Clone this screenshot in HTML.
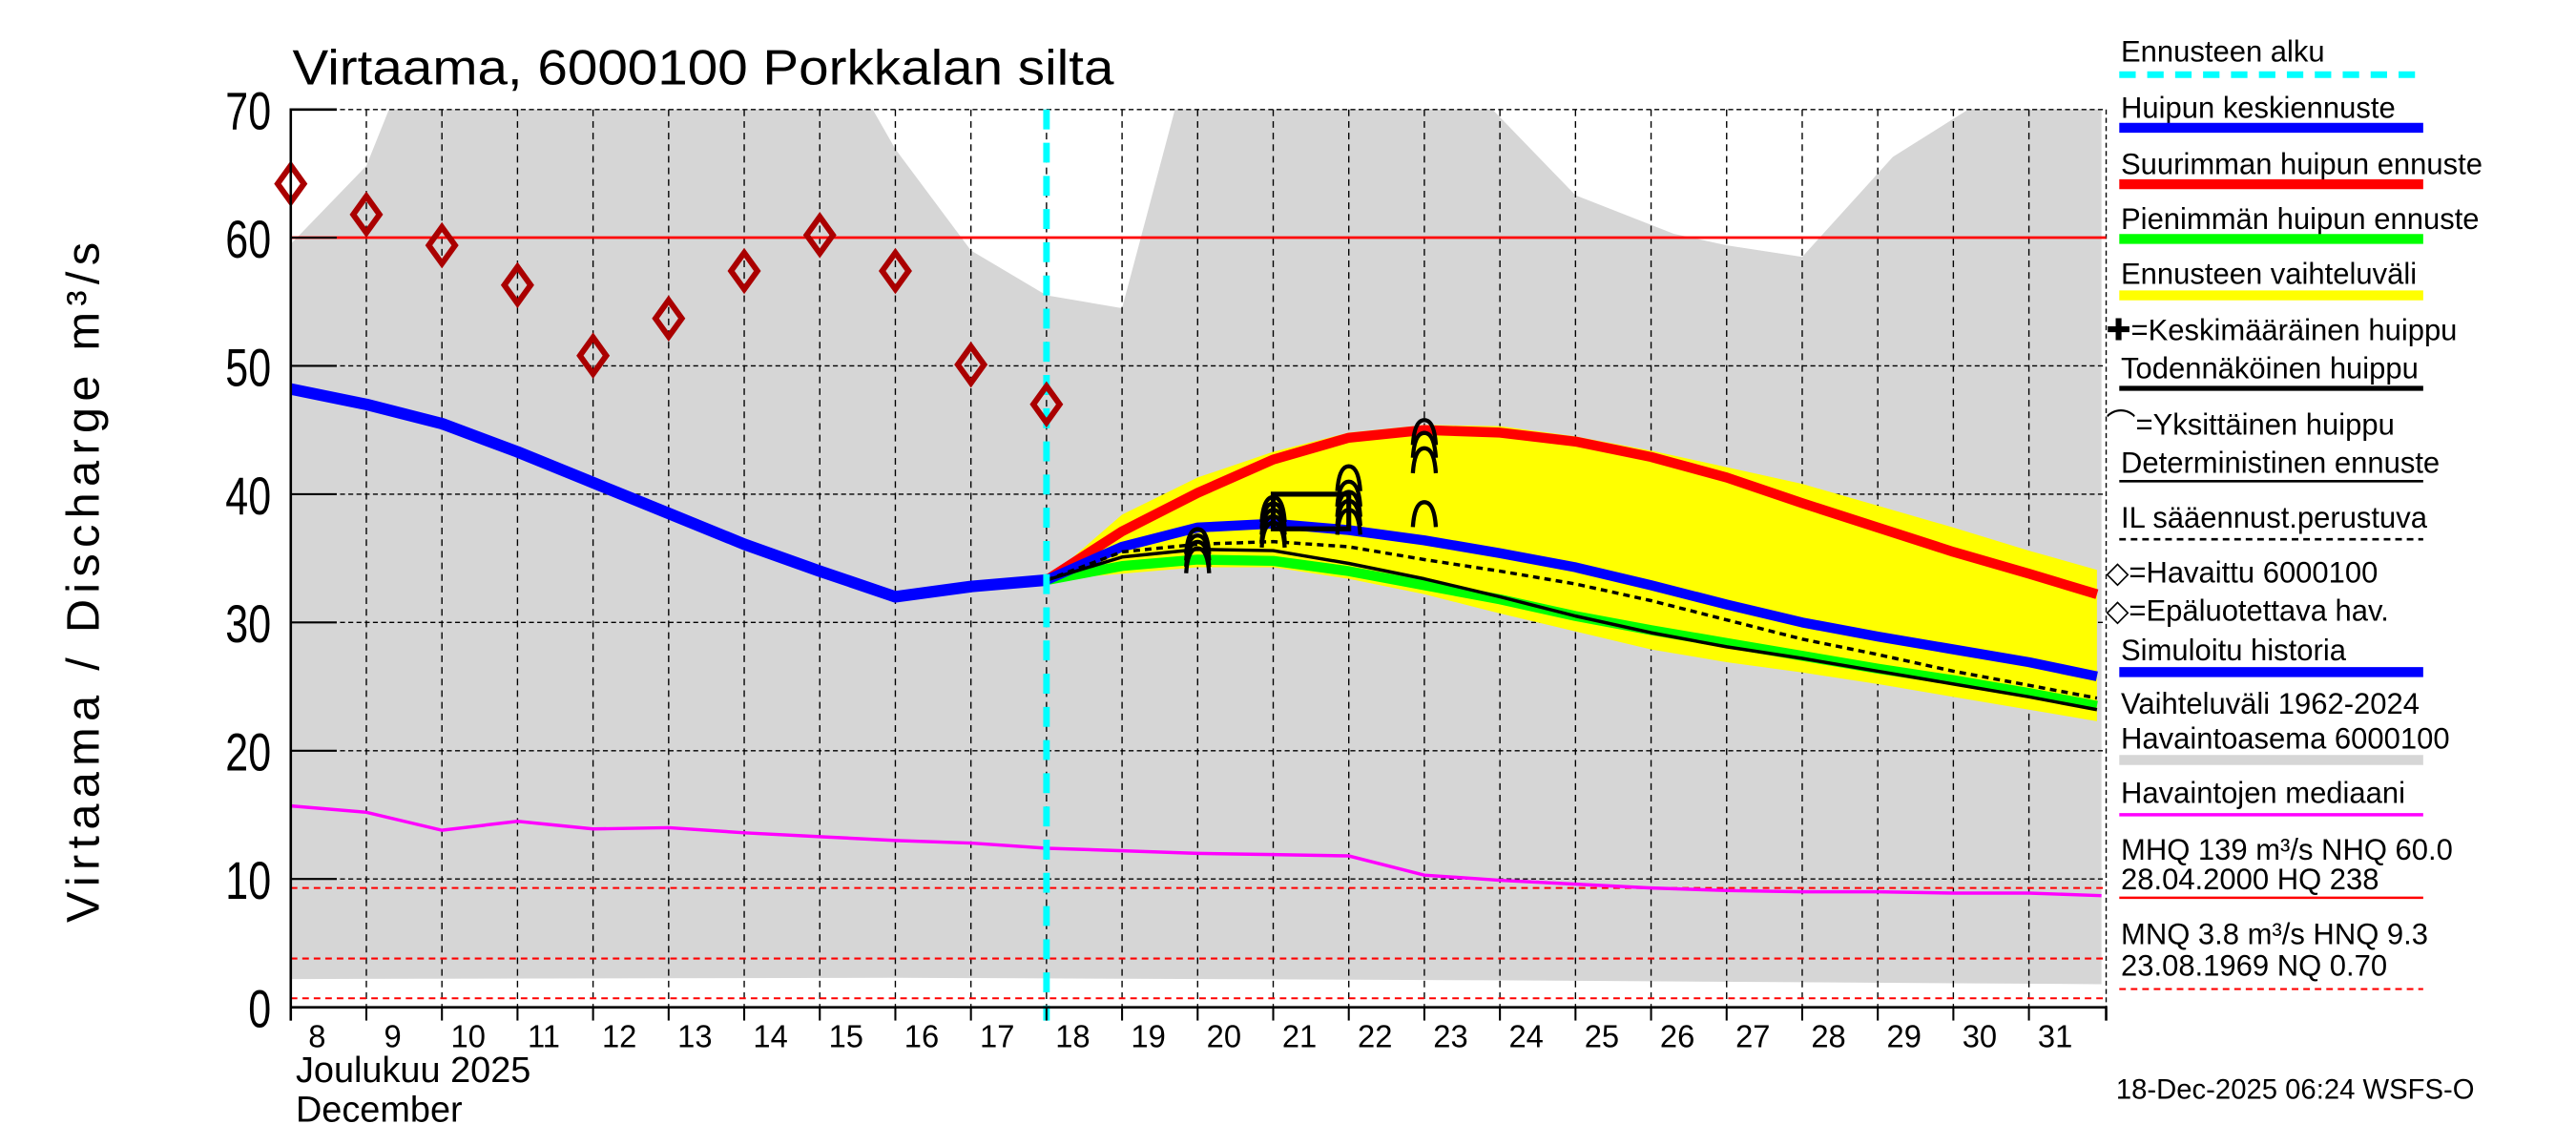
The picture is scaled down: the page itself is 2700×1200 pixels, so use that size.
<!DOCTYPE html>
<html><head><meta charset="utf-8"><style>
html,body{margin:0;padding:0;background:#fff;}
svg{display:block;font-family:"Liberation Sans",sans-serif;}
</style></head><body>
<svg id="chart" width="2700" height="1200" viewBox="0 0 1568 690" preserveAspectRatio="none" xmlns="http://www.w3.org/2000/svg">
<rect x="0" y="0" width="1568" height="690" fill="#fff"/>
<g id="plot"></g>
<text x="178" y="51" font-size="30" textLength="500" lengthAdjust="spacingAndGlyphs">Virtaama, 6000100 Porkkalan silta</text>
<text transform="translate(60,556) rotate(-90)" font-size="28" textLength="410" lengthAdjust="spacing">Virtaama / Discharge    m³/s</text>
<text x="180" y="652" font-size="22">Joulukuu  2025</text>
<text x="180" y="676" font-size="22">December</text>
<g id="legend" font-size="18"></g>
<text x="1288" y="662" font-size="17">18-Dec-2025 06:24 WSFS-O</text>
</svg>
<script>
// ---- data ----
const yTicks = [0,10,20,30,40,50,60,70];
const dayLabels = [8,9,10,11,12,13,14,15,16,17,18,19,20,21,22,23,24,25,26,27,28,29,30,31];
const obsDays = [8,9,10,11,12,13,14,15,16,17,18];
const obsValues = [64.2,61.8,59.4,56.3,50.8,53.7,57.4,60.2,57.4,50.1,47.0];
const histDays = [8,9,10,11,12,13,14,15,16,17,18];
const histValues = [48.2,47.0,45.5,43.3,40.9,38.5,36.1,34.0,32.0,32.8,33.3];
const medianDays = [8,9,10,11,12,13,14,15,16,17,18,19,20,21,22,23,24,25,26,27,28,29,30,31,32];
const medianValues = [15.7,15.2,13.8,14.5,13.9,14.0,13.6,13.3,13.0,12.8,12.4,12.2,12.0,11.9,11.8,10.3,9.9,9.6,9.3,9.1,9.0,9.0,8.9,8.9,8.7];
const bandUpDays = [8,9,9.3,15.7,16,17,18,19,19.7,23.9,25,26.3,27,28,29.2,30.2,32];
const bandUpValues = [59.5,65.6,70,70,66.9,59.0,55.5,54.5,70,70,63.3,60.3,59.4,58.5,66.3,70,70];
const bandLowDays = [8,16,24,32];
const bandLowValues = [2.2,2.3,2.1,1.8];
const fcDays = [18,19,20,21,22,23,24,25,26,27,28,29,30,31,31.9];
const maxValues = [33.3,37.1,40.1,42.7,44.4,45.0,44.8,44.1,42.9,41.3,39.3,37.4,35.5,33.8,32.2];
const meanValues = [33.3,35.9,37.4,37.7,37.2,36.4,35.4,34.3,32.9,31.4,30.0,28.9,27.9,26.9,25.8];
const minValues = [33.3,34.4,34.9,34.8,34.0,32.9,31.8,30.5,29.4,28.4,27.4,26.4,25.5,24.5,23.5];
const detValues = [33.3,35.1,35.7,35.6,34.6,33.4,32.0,30.5,29.2,28.1,27.2,26.2,25.2,24.2,23.2];
const ilValues = [33.3,35.5,36.1,36.3,35.9,34.9,34.0,33.0,31.7,30.2,28.7,27.5,26.2,25.1,24.1];
const rangeHigh = [33.3,38.4,41.3,43.3,44.8,45.4,45.3,44.5,43.4,42.1,40.8,39.1,37.4,35.6,34.1];
const rangeLow = [33.3,33.8,34.3,34.3,33.4,32.2,30.7,29.3,27.9,26.9,26.1,25.2,24.2,23.2,22.3];
const peakDays = [20,20,20,20,21,21,21,21,21,22,22,22,22,22,23,23,23,23];
const peakValues = [35.0,35.5,36.0,36.5,37.0,37.5,38.0,38.5,39.0,38.0,38.7,39.4,40.2,41.4,38.6,42.8,44.0,45.0];
const refLines = [60.0,9.3,3.8,0.7];

// ---- axes ----
const X0=177, X1=1282, Y0=607, Y1=66;
const x = d => X0 + (d-8)*46;
const y = v => Y0 - v*7.73;
const NS="http://www.w3.org/2000/svg";
const plot=document.getElementById('plot');
function mk(tag, attrs, parent){const e=document.createElementNS(NS,tag);for(const k in attrs)e.setAttribute(k,attrs[k]);(parent||plot).appendChild(e);return e;}
function pts(ds,vs){return ds.map((d,i)=>x(Math.min(d,31.96))+','+y(vs[i])).join(' ');}

let bp = pts(bandUpDays,bandUpValues)+' '+pts(bandLowDays.slice().reverse(),bandLowValues.slice().reverse());
let band = mk('polygon',{points:bp,fill:'#d6d6d6'});



yTicks.forEach(v=>{ if(v===0||v===70)return;
  let g=mk('line',{x1:X0,x2:X1,y1:y(v),y2:y(v),stroke:'#000','stroke-width':0.8,'stroke-dasharray':'3,2'});
  
  
});
let gt=mk('line',{x1:X0,x2:X1,y1:Y1,y2:Y1,stroke:'#000','stroke-width':0.8,'stroke-dasharray':'3,2'});


dayLabels.forEach(d=>{ if(d===8)return;
  let g=mk('line',{x1:x(d),x2:x(d),y1:Y1,y2:Y0,stroke:'#000','stroke-width':0.8,'stroke-dasharray':'4,3'});
  
  
});
let gr=mk('line',{x1:X1,x2:X1,y1:Y1,y2:Y0,stroke:'#000','stroke-width':0.8,'stroke-dasharray':'3,2'});



let rp = pts(fcDays,rangeHigh)+' '+pts(fcDays.slice().reverse(),rangeLow.slice().reverse());
let rg=mk('polygon',{points:rp,fill:'#ffff00'});



refLines.forEach((v,i)=>{
  let l=mk('line',{x1:X0,x2:X1,y1:y(v),y2:y(v),stroke:'#ff0000','stroke-width':i===0?1.6:1.2,'stroke-dasharray':i===0?'none':'4,3'});
  
  
});

let md=mk('polyline',{points:pts(medianDays,medianValues),fill:'none',stroke:'#ff00ff','stroke-width':2});



function line(vals,color,w,name,dash){
  let l=mk('polyline',{points:pts(fcDays,vals),fill:'none',stroke:color,'stroke-width':w,'stroke-dasharray':dash||'none','stroke-linejoin':'round'});
  
  
}
line(minValues,'#00ff00',6,'min-peak-forecast');
line(maxValues,'#ff0000',6,'max-peak-forecast');
line(meanValues,'#0000ff',6,'mean-peak-forecast');
line(detValues,'#000',2,'deterministic-forecast');
line(ilValues,'#000',2,'il-forecast','4,3');

let sh=mk('polyline',{points:pts(histDays,histValues),fill:'none',stroke:'#0000ff','stroke-width':7,'stroke-linejoin':'round'});



let bx=mk('rect',{x:x(21),y:y(40),width:46,height:y(37.3)-y(40),fill:'none',stroke:'#000','stroke-width':3});



peakDays.forEach((d,i)=>{
  let cx=x(d), cy=y(peakValues[i]);
  let a=mk('path',{d:`M${cx-7},${cy+9} Q${cx-6},${cy-6} ${cx},${cy-6} Q${cx+6},${cy-6} ${cx+7},${cy+9}`,fill:'none',stroke:'#000','stroke-width':2.5});
  
  
});

let fs=mk('line',{x1:x(18),x2:x(18),y1:Y1,y2:Y0+8,stroke:'#00ffff','stroke-width':4,'stroke-dasharray':'12,8'});



obsDays.forEach((d,i)=>{
  let cx=x(d), cy=y(obsValues[i]);
  let p=mk('polygon',{points:`${cx},${cy-11} ${cx+8},${cy} ${cx},${cy+11} ${cx-8},${cy}`,fill:'none',stroke:'#aa0000','stroke-width':3.5});
  
  
});

let ax=mk('path',{d:`M${X0+28},${Y1} H${X0} V${Y0+8} M${X0},${Y0} H${X1} V${Y0+8}`,fill:'none',stroke:'#000','stroke-width':1.5});


yTicks.forEach(v=>{
  let t=mk('text',{x:X0-12,y:y(v)+12,'font-size':32,'text-anchor':'end',transform:`translate(${(X0-12)*0.22},0) scale(0.78,1)`});
  t.textContent=v;
  
  
  let tk=mk('line',{x1:X0,x2:X0+28,y1:y(v),y2:y(v),stroke:'#000','stroke-width':1.2});
  
  
});
dayLabels.forEach(d=>{
  let tk=mk('line',{x1:x(d),x2:x(d),y1:Y0,y2:Y0+8,stroke:'#000','stroke-width':1.2});
  
  
  let t=mk('text',{x:x(d)+16,y:Y0+24,'font-size':19,'text-anchor':'middle'});
  t.textContent=d;
  
  
});

const lg=document.getElementById('legend');
function ltext(tx,yy,name,xx){let t=mk('text',{x:xx||1291,y:yy},lg);t.textContent=tx;}
function lline(yy,color,w,name,dash){let l=mk('line',{x1:1290,x2:1475,y1:yy,y2:yy,stroke:color,'stroke-width':w,'stroke-dasharray':dash||'none'},lg);}
ltext('Ennusteen alku',37,'legend-forecast-start'); lline(45,'#00ffff',4,'legend-forecast-start-line','10,7');
ltext('Huipun keskiennuste',71,'legend-mean-peak'); lline(77,'#0000ff',6,'legend-mean-peak-line');
ltext('Suurimman huipun ennuste',105,'legend-max-peak'); lline(111,'#ff0000',6,'legend-max-peak-line');
ltext('Pienimmän huipun ennuste',138,'legend-min-peak'); lline(144,'#00ff00',6,'legend-min-peak-line');
ltext('Ennusteen vaihteluväli',171,'legend-forecast-range'); lline(178,'#ffff00',6,'legend-forecast-range-line');
ltext('✚=Keskimääräinen huippu',205,'legend-avg-peak',1282);
ltext('Todennäköinen huippu',228,'legend-probable-peak'); lline(234,'#000',3,'legend-probable-peak-line');
ltext('⌒=Yksittäinen huippu',262,'legend-single-peak',1282);
ltext('Deterministinen ennuste',285,'legend-deterministic'); lline(290,'#000',1.5,'legend-deterministic-line');
ltext('IL sääennust.perustuva',318,'legend-il'); lline(325,'#000',1.5,'legend-il-line','4,3');
ltext('◇=Havaittu 6000100',351,'legend-observed',1282);
ltext('◇=Epäluotettava hav.',374,'legend-unreliable',1282);
ltext('Simuloitu historia',398,'legend-sim-history'); lline(405,'#0000ff',6,'legend-sim-history-line');
ltext('Vaihteluväli 1962-2024',430,'legend-range-years');
ltext('Havaintoasema 6000100',451,'legend-station'); lline(458,'#d6d6d6',6,'legend-range-line');
ltext('Havaintojen mediaani',484,'legend-median'); lline(491,'#ff00ff',2,'legend-median-line');
ltext('MHQ  139 m³/s NHQ 60.0',518,'legend-mhq');
ltext('28.04.2000 HQ  238',536,'legend-hq'); lline(541,'#ff0000',1.5,'legend-hq-line');
ltext('MNQ  3.8 m³/s HNQ  9.3',569,'legend-mnq');
ltext('23.08.1969 NQ 0.70',588,'legend-nq'); lline(596,'#ff0000',1.2,'legend-nq-line','4,3');
</script>
</body></html>
